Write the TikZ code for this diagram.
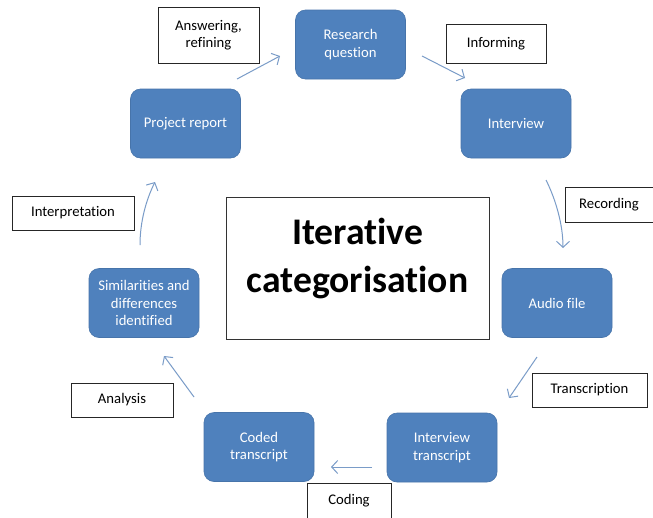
\documentclass[tikz,border=0pt]{standalone}
\usepackage{fontspec}
\setmainfont{Carlito}[Ligatures={NoCommon}]
\usetikzlibrary{arrows.meta}
\definecolor{boxblue}{HTML}{4F81BD}
\definecolor{arrowblue}{HTML}{7A9CC8}
\begin{document}
\begin{tikzpicture}[x=1pt,y=-1pt,
  stage/.style={draw=boxblue!90!black,line width=0.6pt,fill=boxblue,rounded corners=10pt,
    text=white,align=center,minimum width=110pt,minimum height=69pt,inner sep=2pt,
    font=\fontsize{14.7}{17.5}\selectfont},
  tag/.style={draw=black!85,line width=0.9pt,fill=white,align=center,inner sep=2pt,
    font=\fontsize{14.7}{17.5}\selectfont},
  flow/.style={draw=arrowblue,line width=1pt,-{Straight Barb[length=6pt,width=13pt]}}]
\useasboundingbox (0,0) rectangle (653,517);
\clip (0,0) rectangle (653,517);
\fill[white] (0,0) rectangle (653,517);
% stages
\node[stage] (rq) at (350.5,44.5) {Research\\question};
\node[stage] (iv) at (516,123.5) {Interview};
\node[stage] (af) at (557,303) {Audio file};
\node[stage] (it) at (442,447.5) {Interview\\transcript};
\node[stage] (ct) at (259,447) {Coded\\transcript};
\node[stage] (sd) at (144,303) {Similarities and\\differences\\identified};
\node[stage] (pr) at (185.5,123.5) {Project report};
% centre
\node[draw=black!80,line width=1pt,minimum width=263pt,minimum height=142pt] (ic) at (357.5,268) {};
\node[align=center,font=\bfseries\fontsize{37.6}{48}\selectfont] (ict) at (357.5,258) {Iterative\\categorisation};
% labels
\node[tag,minimum width=101pt,minimum height=56pt] (l1) at (208.5,35) {Answering,\\refining};
\node[tag,minimum width=100pt,minimum height=39pt] (l2) at (496,43.5) {Informing};
\node[tag,minimum width=88pt,minimum height=35pt] (l3) at (609,204.5) {Recording};
\node[tag,minimum width=115pt,minimum height=34pt] (l4) at (589.5,390) {Transcription};
\node[tag,minimum width=84pt,minimum height=36pt] (l5) at (349,501) {Coding};
\node[tag,minimum width=102pt,minimum height=34pt] (l6) at (122,400) {Analysis};
\node[tag,minimum width=122pt,minimum height=34pt] (l7) at (73,213) {Interpretation};
% arrow end points
\coordinate (a1s) at (237,79);  \coordinate (a1e) at (280,56);
\coordinate (a2s) at (422,56);  \coordinate (a2e) at (465,78);
\coordinate (a3s) at (546,180); \coordinate (a3e) at (563,248);
\coordinate (a4s) at (537,357); \coordinate (a4e) at (509,398);
\coordinate (a5s) at (372,467); \coordinate (a5e) at (331,467);
\coordinate (a6s) at (194,397); \coordinate (a6e) at (164,356);
\coordinate (a7s) at (140,245); \coordinate (a7e) at (155,182);
\draw[flow] (a1s) -- (a1e);
\draw[flow] (a2s) -- (a2e);
\draw[flow] (a3s) .. controls (556,200) and (563,225) .. (a3e);
\draw[flow] (a4s) -- (a4e);
\draw[flow] (a5s) -- (a5e);
\draw[flow] (a6s) -- (a6e);
\draw[flow] (a7s) .. controls (140,222) and (146,200) .. (a7e);
\end{tikzpicture}
\end{document}
